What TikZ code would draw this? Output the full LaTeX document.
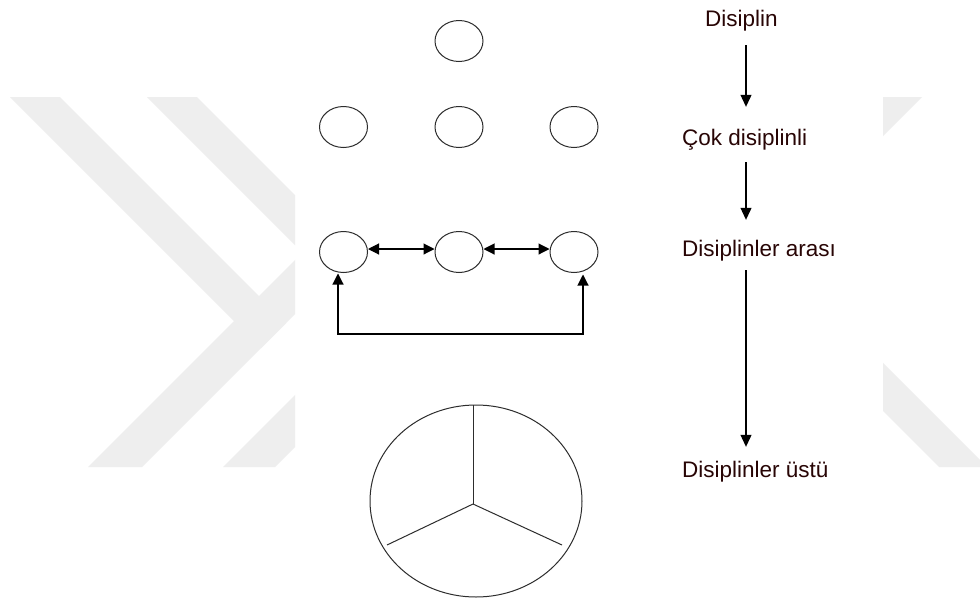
\documentclass[tikz,border=0pt]{standalone}
\usepackage{fontspec}
\setmainfont{Liberation Sans}
\usetikzlibrary{shapes.geometric,arrows.meta}
\definecolor{wm}{RGB}{238,238,238}
\definecolor{ink}{RGB}{45,45,45}
\definecolor{txt}{RGB}{40,5,5}
\begin{document}
\begin{tikzpicture}[x=1pt,y=-1pt,
  disc/.style={ellipse, draw=ink, line width=1pt, minimum width=48pt, minimum height=41pt, inner sep=0pt},
  lbl/.style={anchor=base west, inner sep=0pt, text height=17pt, text depth=5pt, text=txt, font=\fontsize{22.5}{27}\selectfont},
  arr/.style={line width=1.1pt, -{Triangle[length=12pt,width=11pt]}},
  dbl/.style={line width=1.1pt, {Triangle[length=11pt,width=11pt]}-{Triangle[length=11pt,width=11pt]}},
  spoke/.style={draw=ink, line width=1pt}]
\useasboundingbox (0,0) rectangle (980,603);
\fill[white] (0,0) rectangle (980,603);

% watermark (left)
\begin{scope}
\clip (0,97) rectangle (295,467);
\fill[wm] (10,97) -- (60,97) -- (286,323) -- (261,348) -- cycle;
\fill[wm] (88,467) -- (142,467) -- (512,97) -- (458,97) -- cycle;
\fill[wm] (147,97) -- (197,97) -- (567,467) -- (517,467) -- cycle;
\fill[wm] (223,467) -- (275,467) -- (645,97) -- (593,97) -- cycle;
\end{scope}
% watermark (right)
\begin{scope}
\clip (883,97) rectangle (980,467);
\fill[wm] (872,97) -- (922,97) -- (552,467) -- (502,467) -- cycle;
\fill[wm] (569,97) -- (617,97) -- (987,467) -- (939,467) -- cycle;
\end{scope}

% discipline
\node[disc] (t) at (459,41) {};
% multidisciplinary
\node[disc] (m1) at (343.5,127) {};
\node[disc] (m2) at (459,127) {};
\node[disc] (m3) at (574,127) {};
% interdisciplinary
\node[disc] (i1) at (343.5,252) {};
\node[disc] (i2) at (459,252) {};
\node[disc] (i3) at (574,252) {};
\draw[dbl] ([yshift=3pt]i1.east) -- ([yshift=3pt]i2.west);
\draw[dbl] ([yshift=3pt]i2.east) -- ([yshift=3pt]i3.west);
\coordinate (c1) at (338,334);
\coordinate (c2) at (583,334);
\draw[dbl] ([yshift=-0.5pt]i1.south -| c1) -- (c1) -- (c2) -- ([yshift=-1.5pt]i3.south -| c2);

% transdisciplinary
\node[ellipse, draw=ink, line width=1pt, minimum width=212pt, minimum height=192pt, inner sep=0pt] (whole) at (476,501) {};
\coordinate (hub) at (473,504);
\coordinate (ll) at (387,545);
\coordinate (lr) at (562,545);
\draw[spoke] (hub) -- (whole.north -| hub);
\draw[spoke] (hub) -- (ll);
\draw[spoke] (hub) -- (lr);

% labels
\coordinate (col) at (746,0);
\node[lbl] (d1) at (705,26) {Disiplin};
\node[lbl] (d2) at (682,145) {Çok disiplinli};
\node[lbl] (d3) at (682,256) {Disiplinler arası};
\node[lbl] (d4) at (682,477) {Disiplinler üstü};
\draw[arr, shorten <=14pt, shorten >=21pt] (d1.south -| col) -- (d2.north -| col);
\draw[arr, shorten <=12pt, shorten >=19pt] (d2.south -| col) -- (d3.north -| col);
\draw[arr, shorten <=9pt, shorten >=13pt] (d3.south -| col) -- (d4.north -| col);
\end{tikzpicture}
\end{document}
